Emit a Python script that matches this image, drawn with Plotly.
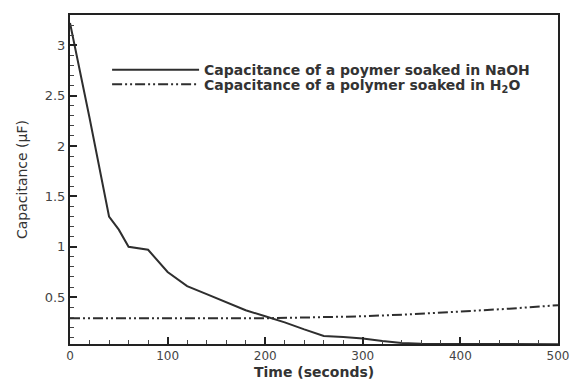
import plotly.graph_objects as go

time_naoh = [0, 20, 40, 50, 60, 80, 100, 120, 140, 160, 180, 200, 220, 240, 260, 280, 300, 320, 340, 360, 400, 450, 500]
cap_naoh = [3.22, 2.28, 1.30, 1.17, 1.00, 0.97, 0.75, 0.61, 0.53, 0.45, 0.37, 0.31, 0.25, 0.18, 0.115, 0.105, 0.09, 0.065, 0.045, 0.037, 0.034, 0.033, 0.032]
time_h2o = [0, 100, 200, 250, 300, 350, 400, 450, 500]
cap_h2o = [0.29, 0.29, 0.29, 0.30, 0.31, 0.33, 0.355, 0.385, 0.42]

name_naoh = "Capacitance of a poymer soaked in NaOH"
name_h2o = "Capacitance of a polymer soaked in H<sub>2</sub>O"
x_title = "Time (seconds)"
y_title = "Capacitance (μF)"

x_ticks = [0, 100, 200, 300, 400, 500]
y_ticks = [0.5, 1, 1.5, 2, 2.5, 3]

# browser default body margin of 8px is compensated for in the size/margins
OFF = 8
W, H = 583 - OFF, 379 - OFF

line_col = "#2e2e2e"
fig = go.Figure()
fig.add_trace(go.Scatter(x=time_naoh, y=cap_naoh, mode="lines", name=name_naoh,
                         legend="legend",
                         line=dict(color=line_col, width=2)))
fig.add_trace(go.Scatter(x=time_h2o, y=cap_h2o, mode="lines", name=name_h2o,
                         legend="legend2",
                         line=dict(color=line_col, width=2, dash="10px,3px,2px,3px,2px,3px")))

leg_font = dict(size=14, color="#333", family="DejaVu Sans, Verdana, sans-serif", weight="bold")
fig.update_layout(
    width=W, height=H,
    margin=dict(l=70 - OFF, r=25, t=13 - OFF, b=35),
    paper_bgcolor="white", plot_bgcolor="white",
    font=dict(family="DejaVu Sans, Verdana, sans-serif", color="#333"),
    showlegend=True,
    legend=dict(x=0.076, y=0.832, xanchor="left", yanchor="middle",
                bgcolor="rgba(0,0,0,0)", itemwidth=87, font=leg_font),
    legend2=dict(x=0.076, y=0.788, xanchor="left", yanchor="middle",
                 bgcolor="rgba(0,0,0,0)", itemwidth=87, font=leg_font),
    xaxis=dict(range=[0, 500], tickvals=x_ticks, ticks="inside", ticklen=7, tickwidth=2,
               tickcolor="#222", showline=True, linecolor="#222", linewidth=2, mirror=True,
               showgrid=False, zeroline=False, tickfont=dict(size=12, color="#444"),
               minor=dict(dtick=20, ticks="inside", ticklen=4, tickcolor="#444", tickwidth=1)),
    yaxis=dict(range=[0.035, 3.3], tickvals=y_ticks, ticks="inside", ticklen=7, tickwidth=2,
               tickcolor="#222", showline=True, linecolor="#222", linewidth=2, mirror=True,
               showgrid=False, zeroline=False, tickfont=dict(size=13, color="#444"),
               minor=dict(dtick=0.1, tick0=0, ticks="inside", ticklen=4, tickcolor="#444", tickwidth=1),
               title=dict(text=y_title, standoff=14,
                          font=dict(size=14, color="#333"))),
    annotations=[dict(text=x_title, xref="paper", yref="paper", x=0.5, y=-0.0586,
                      xanchor="center", yanchor="top", showarrow=False, borderpad=0,
                      font=dict(size=14, color="#333", weight="bold"))],
)
fig.write_html("out.html")
